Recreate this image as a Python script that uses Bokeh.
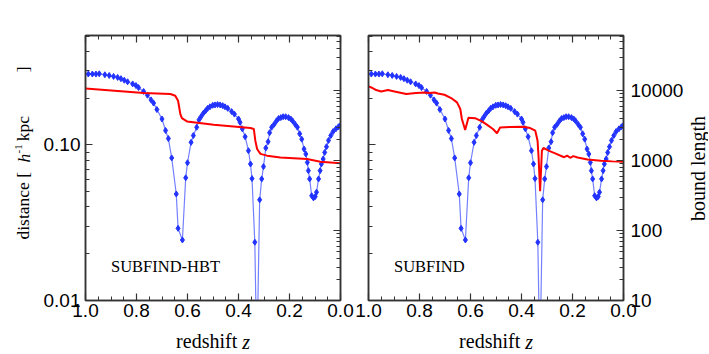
import math
from bokeh.plotting import figure
from bokeh.models import (Range1d, LogScale, LogAxis, LinearAxis, FixedTicker,
                          PrintfTickFormatter, Label)
from bokeh.layouts import row
from bokeh.embed import file_html
from bokeh.resources import INLINE

# ---------------- data ----------------
z_dist = [0.989, 0.973, 0.959, 0.946, 0.924, 0.907, 0.890, 0.874, 0.861, 0.848,
          0.835, 0.815, 0.802, 0.792, 0.772, 0.757, 0.743, 0.733, 0.720, 0.700,
          0.686, 0.675, 0.662, 0.644, 0.637, 0.620, 0.607, 0.600, 0.586, 0.577,
          0.564, 0.555, 0.547, 0.538, 0.529, 0.521, 0.512, 0.501, 0.492, 0.482,
          0.472, 0.462, 0.453, 0.442, 0.427, 0.416, 0.400, 0.394, 0.385, 0.374,
          0.361, 0.353, 0.347, 0.336, 0.328, 0.317, 0.309, 0.302, 0.293, 0.284,
          0.278, 0.270, 0.260, 0.251, 0.243, 0.234, 0.225, 0.215, 0.204, 0.195,
          0.188, 0.178, 0.169, 0.160, 0.152, 0.143, 0.136, 0.130, 0.126, 0.121,
          0.113, 0.106, 0.099, 0.094, 0.086, 0.080, 0.075, 0.068, 0.062, 0.055,
          0.047, 0.038, 0.029, 0.018, 0.008, 0.000]
dist = [0.286, 0.286, 0.286, 0.287, 0.283, 0.280, 0.276, 0.272, 0.267, 0.261,
        0.255, 0.247, 0.241, 0.234, 0.221, 0.209, 0.195, 0.186, 0.169, 0.147,
        0.124, 0.110, 0.0826, 0.0484, 0.0291, 0.0245, 0.0615, 0.0769, 0.104, 0.115,
        0.130, 0.145, 0.152, 0.160, 0.166, 0.172, 0.176, 0.180, 0.181, 0.182,
        0.181, 0.179, 0.176, 0.172, 0.164, 0.158, 0.147, 0.140, 0.127, 0.113,
        0.0919, 0.0755, 0.0608, 0.0237, 0.004, 0.0444, 0.0605, 0.0726, 0.0957, 0.105,
        0.120, 0.130, 0.136, 0.143, 0.148, 0.150, 0.152, 0.152, 0.150, 0.147,
        0.143, 0.136, 0.130, 0.118, 0.109, 0.0942, 0.0875, 0.0773, 0.0684, 0.0605,
        0.0472, 0.0457, 0.0466, 0.0497, 0.0605, 0.0684, 0.0755, 0.0813, 0.0896, 0.0975,
        0.107, 0.115, 0.122, 0.127, 0.131, 0.134]

z_bl_hbt = [1.000, 0.772, 0.667, 0.648, 0.637, 0.628, 0.622, 0.602, 0.497, 0.353,
            0.340, 0.334, 0.327, 0.314, 0.288, 0.236, 0.131, 0.079, 0.000]
bl_hbt = [10800, 9270, 8980, 8490, 7200, 4640, 4070, 3640, 3270, 2930,
          2840, 1930, 1470, 1250, 1180, 1110, 1060, 968, 915]

z_bl_sf = [1.000, 0.989, 0.970, 0.950, 0.924, 0.898, 0.852, 0.813, 0.780, 0.761,
           0.741, 0.728, 0.702, 0.676, 0.653, 0.640, 0.634, 0.621, 0.608, 0.582,
           0.555, 0.536, 0.512, 0.496, 0.484, 0.444, 0.392, 0.366, 0.346, 0.337,
           0.333, 0.327, 0.320, 0.314, 0.294, 0.268, 0.233, 0.221, 0.209, 0.197,
           0.180, 0.141, 0.089, 0.044, 0.000]
bl_sf = [11580, 11140, 10230, 9770, 10230, 9770, 8980, 9270, 9460, 9270,
         9460, 9140, 8770, 7870, 6810, 5480, 3980, 2750, 4110, 4050,
         3640, 3270, 2840, 2470, 2990, 3030, 3060, 2930, 2680, 1930,
         1110, 366, 1390, 1520, 1390, 1270, 1120, 1180, 1100, 1160,
         1110, 1040, 1000, 977, 967]

x_ticks = [0.0, 0.2, 0.4, 0.6, 0.8, 1.0]
dist_ticks = [0.01, 0.1]
bl_ticks = [10, 100, 1000, 10000]
panel_names = ["SUBFIND-HBT", "SUBFIND"]

# ---------------- styling helpers ----------------
x_minor = [round(0.05 * i, 2) for i in range(21)]
dist_minor = [k * 10.0 ** e for e in (-2, -1) for k in range(2, 10)]
bl_minor = [k * 10 ** e for e in (1, 2, 3, 4) for k in range(2, 10)]

AX_COL = "#333333"
SANS = "Liberation Sans"
SERIF = "Liberation Serif"
H = 353
NB = "\u00a0"


def style_axis(ax, labels, standoff=4):
    ax.axis_line_color = AX_COL
    ax.axis_line_width = 1.5
    ax.major_tick_line_color = AX_COL
    ax.minor_tick_line_color = AX_COL
    ax.major_tick_in = 7
    ax.major_tick_out = 0
    ax.minor_tick_in = 4
    ax.minor_tick_out = 0
    ax.major_tick_line_width = 1.2
    ax.minor_tick_line_width = 1
    ax.axis_label = None
    if labels:
        ax.major_label_text_font = SANS
        ax.major_label_text_font_size = "19px"
        ax.major_label_text_color = "black"
        ax.major_label_text_font_style = "normal"
        ax.major_label_standoff = standoff
    else:
        ax.major_label_text_font_size = "0px"
        ax.major_label_text_color = None
        ax.major_label_standoff = 0


def lab(text, x, y, size, style="normal", angle=0.0, align="left"):
    return Label(x=x, y=y, x_units="screen", y_units="screen", text=text,
                 text_font=SERIF, text_font_size=size, text_font_style=style,
                 text_color="black", angle=angle, text_align=align,
                 text_baseline="alphabetic")


def make_panel(z_bl, bl, name, left_labels, right_labels, mb_left, mb_right, width):
    p = figure(width=width, height=H,
               x_range=Range1d(1.0, 0.0), y_range=Range1d(0.01, 0.506),
               y_axis_type="log", output_backend="svg", toolbar_location=None,
               min_border_left=mb_left, min_border_right=mb_right,
               min_border_top=35, min_border_bottom=H - 35 - 265)
    p.extra_y_ranges = {"bl": Range1d(10, 61700)}
    p.extra_y_scales = {"bl": LogScale()}
    p.xgrid.visible = False
    p.ygrid.visible = False
    p.outline_line_color = AX_COL
    p.outline_line_width = 1.5
    p.background_fill_color = "white"
    p.border_fill_color = "white"

    xb = p.xaxis[0]
    xb.ticker = FixedTicker(ticks=x_ticks, minor_ticks=x_minor)
    xb.formatter = PrintfTickFormatter(format="%.1f")
    style_axis(xb, True, standoff=3)

    xt = LinearAxis(ticker=FixedTicker(ticks=x_ticks, minor_ticks=x_minor))
    style_axis(xt, False)
    p.add_layout(xt, "above")

    yl = p.yaxis[0]
    yl.ticker = FixedTicker(ticks=dist_ticks, minor_ticks=dist_minor)
    yl.formatter = PrintfTickFormatter(format="%.2f")
    style_axis(yl, left_labels, standoff=5)

    yr = LogAxis(y_range_name="bl",
                 ticker=FixedTicker(ticks=bl_ticks, minor_ticks=bl_minor),
                 formatter=PrintfTickFormatter(format="%d"))
    style_axis(yr, right_labels, standoff=7)
    p.add_layout(yr, "right")

    p.line(z_dist, dist, line_color="#5a6aff", line_width=1.2, line_alpha=0.85)
    p.scatter(z_dist, dist, marker="diamond", size=6,
              fill_color="#2233ff", line_color="#2233ff")
    p.line(z_bl, bl, y_range_name="bl", line_color="#ff0000", line_width=2)

    p.add_layout(Label(x=0.9, y=0.0165, text=name, text_font=SERIF,
                       text_font_size="16.5px", text_baseline="middle",
                       text_color="black"))
    # x axis title "redshift z": upright part below, italic z via the top slot
    p.add_layout(lab("redshift", 90.6, 0.5, "20px"), "below")
    p.add_layout(lab("z", 156.7, -306.0, "20px", style="italic"), "above")
    return p


pL = make_panel(z_bl_hbt, bl_hbt, panel_names[0], True, False, 85, 14, 354)
pR = make_panel(z_bl_sf, bl_sf, panel_names[1], False, True, 14, 85, 354)

rot = math.pi / 2
# left y title "distance [ h^-1 kpc ]"
pL.add_layout(lab("distance [" + NB * 7 + "kpc" + NB * 10 + "]",
                  2.5, 61, "17.5px", angle=rot), "left")
pL.add_layout(lab("h", 23.5, 138, "17.5px", style="italic", angle=rot), "left")
pL.add_layout(lab("-1", 17.5 - 340, 147, "11px", angle=rot), "right")

pR.add_layout(lab("bound length", 11, 132, "20px", angle=rot, align="center"),
              "right")

layout = row(pL, pR)
open("out.html", "w").write(file_html(layout, INLINE))
